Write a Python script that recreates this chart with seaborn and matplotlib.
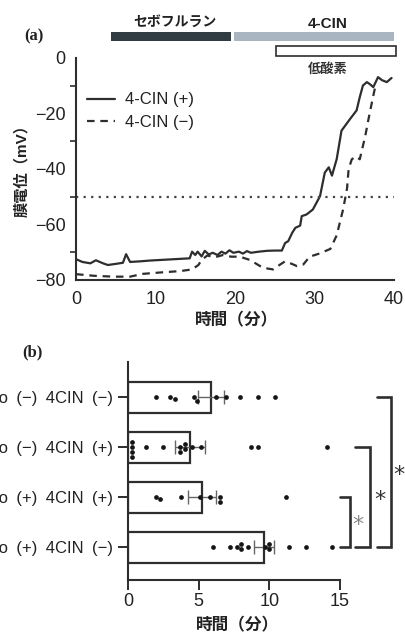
import numpy as np
import pandas as pd
import matplotlib
matplotlib.use('Agg')
import matplotlib.pyplot as plt
import seaborn as sns
from matplotlib.patches import Rectangle

sns.set_theme(style='white')
plt.rcParams['font.family'] = ['Liberation Sans', 'Noto Sans CJK JP', 'DejaVu Sans']
plt.rcParams['axes.unicode_minus'] = True

# ---------------- data: panel (a) ----------------
t_plus = [0, 0.8, 1.8, 2.5, 3.4, 4.0, 5.0, 5.9, 6.3, 6.8, 8.0, 9.3, 11.8, 14.3, 14.6, 15.0,
          15.3, 15.8, 16.2, 16.7, 17.2, 17.8, 18.3, 18.8, 19.3, 19.8, 20.5, 21.0, 21.5, 22.0,
          23.0, 24.0, 25.0, 25.9, 26.3, 26.7, 27.2, 27.6, 28.2, 28.4, 29.0, 29.8, 30.7, 31.3,
          31.8, 32.2, 32.8, 33.4, 34.5, 35.3, 35.7, 36.1, 36.6, 37.0, 37.4, 38.0, 38.5, 39.1, 39.7]
mv_plus = [-72.5, -73.5, -74.0, -72.9, -74.0, -74.6, -74.2, -73.8, -70.7, -73.5, -73.3, -73.0,
           -72.6, -72.2, -69.8, -71.0, -69.8, -71.5, -69.5, -70.8, -70.2, -71.0, -69.8, -70.5,
           -69.3, -70.2, -69.8, -70.5, -69.6, -70.2, -69.8, -69.5, -69.4, -69.4, -66.7, -66.0,
           -63.0, -61.2, -60.4, -57.0, -56.4, -54.6, -49.8, -41.3, -39.4, -42.4, -36.4, -26.2,
           -21.9, -18.9, -14.1, -9.9, -8.7, -9.5, -10.5, -6.9, -8.0, -8.7, -7.2]
t_minus = [0, 2.3, 4.7, 6.8, 8.4, 10.6, 13.1, 14.6, 15.4, 15.8, 16.5, 17.5, 18.5, 19.5, 20.6,
           21.9, 23.5, 24.8, 25.7, 26.3, 26.9, 27.8, 28.6, 29.4, 30.7, 32.0, 32.8, 33.6, 34.1,
           34.3, 34.7, 35.2, 35.7, 36.4, 36.8, 37.4, 37.6]
mv_minus = [-77.9, -78.5, -78.8, -78.8, -77.8, -77.3, -76.8, -76.2, -74.6, -72.8, -71.2, -71.8,
            -71.0, -71.6, -71.6, -72.8, -75.6, -76.2, -74.4, -73.3, -73.9, -75.0, -74.4, -71.6,
            -70.4, -68.8, -63.9, -54.6, -47.0, -40.0, -36.5, -35.5, -36.5, -28.0, -22.0, -13.6,
            -11.0]
threshold_mv = -50
sevo_span = (4.4, 19.5)
cin_span = (19.9, 40.0)
hypoxia_span = (25.2, 40.2)
legend_labels = ['4-CIN (+)', '4-CIN (−)']

# ---------------- data: panel (b) ----------------
groups = ['Hypo\u2002(−)\u20024CIN\u2002(−)', 'Hypo\u2002(−)\u20024CIN\u2002(+)',
          'Hypo\u2002(+)\u20024CIN\u2002(+)', 'Hypo\u2002(+)\u20024CIN\u2002(−)']
bar_means = [5.87, 4.38, 5.22, 9.6]
bar_sems = [0.91, 1.04, 1.0, 0.71]
pts_g1 = [2.0, 3.0, 3.3, 4.7, 4.9, 6.2, 6.9, 7.9, 9.2, 10.4]
pts_g2 = [0.25, 0.25, 0.25, 0.25, 1.25, 2.5, 3.7, 3.7, 4.0, 4.0, 4.5, 5.2, 8.7, 9.2, 14.1]
pts_g3 = [2.0, 2.3, 3.75, 5.1, 5.8, 6.5, 6.5, 11.2]
pts_g4 = [6.0, 7.2, 7.7, 8.0, 8.0, 8.5, 9.7, 10.0, 10.0, 11.4, 12.6, 14.4]
comparisons = [(2, 3), (1, 3), (0, 3)]

DARK = '#2e2e2e'

fig = plt.figure(figsize=(4.05, 6.33), dpi=100)

# ================= panel (a) =================
ax1 = fig.add_axes([0.1877, 0.5577, 0.785, 0.3507])
sns.lineplot(x=t_plus, y=mv_plus, ax=ax1, color=DARK, lw=1.6, label=legend_labels[0],
             sort=False)
sns.lineplot(x=t_minus, y=mv_minus, ax=ax1, color=DARK, lw=1.6, label=legend_labels[1],
             sort=False, linestyle=(0, (3.4, 2.6)))
ax1.axhline(threshold_mv, color='#444444', lw=1.6, ls=(0, (1, 2.4)))
ax1.set_xlim(0, 40)
ax1.set_ylim(-80, 0)
ax1.set_xticks(np.arange(0, 41, 5))
ax1.set_xticklabels(['0', '', '10', '', '20', '', '30', '', '40'])
ax1.set_yticks([-80, -60, -40, -20, 0])
ax1.set_yticks([-70, -50, -30, -10], minor=True)
ax1.tick_params(axis='both', which='major', direction='out', length=6, width=1.4,
                color=DARK, labelsize=13, labelcolor='#222', pad=1.5)
ax1.tick_params(axis='y', which='minor', direction='out', length=4, width=1.2, color=DARK,
                left=True)
ax1.tick_params(axis='x', pad=2)
for s in ['top', 'right']:
    ax1.spines[s].set_visible(False)
for s in ['left', 'bottom']:
    ax1.spines[s].set_color(DARK)
    ax1.spines[s].set_linewidth(1.5)
ax1.set_xlabel('')
ax1.set_ylabel('')

leg = ax1.legend(loc='upper left', bbox_to_anchor=(0.035, 0.845), frameon=False,
                 handlelength=1.7, fontsize=12, borderaxespad=0, borderpad=0,
                 labelspacing=0.45, handletextpad=0.6)
for txt in leg.get_texts():
    txt.set_color('#222')

# treatment bars above the trace
ax1.add_patch(Rectangle((sevo_span[0], 6.2), sevo_span[1] - sevo_span[0], 3.2,
                        facecolor='#323c43', edgecolor='none', clip_on=False))
ax1.add_patch(Rectangle((cin_span[0], 6.2), cin_span[1] - cin_span[0], 3.2,
                        facecolor='#aab5c2', edgecolor='none', clip_on=False))
ax1.add_patch(Rectangle((hypoxia_span[0], 0.8), hypoxia_span[1] - hypoxia_span[0], 3.4,
                        facecolor='white', edgecolor=DARK, lw=1.2, clip_on=False))
ax1.text(12.5, 13.0, 'セボフルラン', ha='center', va='center', fontsize=10,
         fontweight='bold', color='#222', clip_on=False)
ax1.text(31.7, 12.4, '4-CIN', ha='center', va='center', fontsize=11,
         fontweight='bold', color='#222', clip_on=False)
ax1.text(31.7, -4.0, '低酸素', ha='center', va='center', fontsize=9.5,
         fontweight='bold', color='#333')

fig.text(34 / 405, 1 - 36 / 633, '(a)', ha='center', va='center', fontsize=12,
         fontweight='bold', family=['Liberation Serif', 'DejaVu Serif'], color='#222')
fig.text(22 / 405, 1 - 167 / 633, '膜電位（mV）', rotation=90, ha='center', va='center',
         fontsize=11, fontweight='bold', color='#222')
fig.text(237 / 405, 1 - 320 / 633, '時間（分）', ha='center', va='center', fontsize=12,
         fontweight='bold', color='#222')

# ================= panel (b) =================
ax2 = fig.add_axes([0.316, 0.0837, 0.5235, 0.3444])
df_bars = pd.DataFrame({'group': groups, 'mean': bar_means})
sns.barplot(data=df_bars, x='mean', y='group', order=groups, orient='h', color='white',
            saturation=1, edgecolor=DARK, linewidth=1.6, width=0.62, errorbar=None, ax=ax2)
ax2.errorbar(bar_means, np.arange(len(groups)), xerr=bar_sems, fmt='none',
             ecolor='#666666', elinewidth=1.0, capsize=5, capthick=1.0, zorder=4)
df_pts = pd.DataFrame({
    'group': [groups[0]] * len(pts_g1) + [groups[1]] * len(pts_g2)
             + [groups[2]] * len(pts_g3) + [groups[3]] * len(pts_g4),
    'time': pts_g1 + pts_g2 + pts_g3 + pts_g4,
})
sns.swarmplot(data=df_pts, x='time', y='group', order=groups, orient='h', color='#151515',
              size=3.4, ax=ax2, zorder=5)
ax2.set_xlim(0, 15)
ax2.set_ylim(3.66, -0.7)
ax2.set_xticks([0, 5, 10, 15])
ax2.tick_params(axis='both', direction='out', length=7, width=1.4, color=DARK,
                labelcolor='#222', bottom=True, left=True)
ax2.tick_params(axis='x', labelsize=13, pad=2)
ax2.tick_params(axis='y', labelsize=12, pad=4)
for s in ['top', 'right']:
    ax2.spines[s].set_visible(False)
for s in ['left', 'bottom']:
    ax2.spines[s].set_color(DARK)
    ax2.spines[s].set_linewidth(1.5)
ax2.set_xlabel('')
ax2.set_ylabel('')

# significance brackets
br_x = [15.7, 17.1, 18.6]
br_tick = [15.0, 16.05, 17.6]
star_x = [16.3, 17.85, 19.2]
star_col = ['#8a8a8a', '#333333', '#333333']
for (a, b), bx, tx, sx, sc in zip(comparisons, br_x, br_tick, star_x, star_col):
    ax2.plot([tx, bx, bx, tx], [a, a, b, b], color=DARK, lw=1.9, clip_on=False,
             solid_joinstyle='miter')
    ax2.text(sx, (a + b) / 2 + 0.05, '*', ha='center', va='center', fontsize=16,
             color=sc, family=['DejaVu Sans'], clip_on=False)

fig.text(32 / 405, 1 - 352 / 633, '(b)', ha='center', va='center', fontsize=12,
         fontweight='bold', family=['Liberation Serif', 'DejaVu Serif'], color='#222')
fig.text(238 / 405, 1 - 625 / 633, '時間（分）', ha='center', va='center', fontsize=12,
         fontweight='bold', color='#222')

fig.savefig('out.png', dpi=100)
